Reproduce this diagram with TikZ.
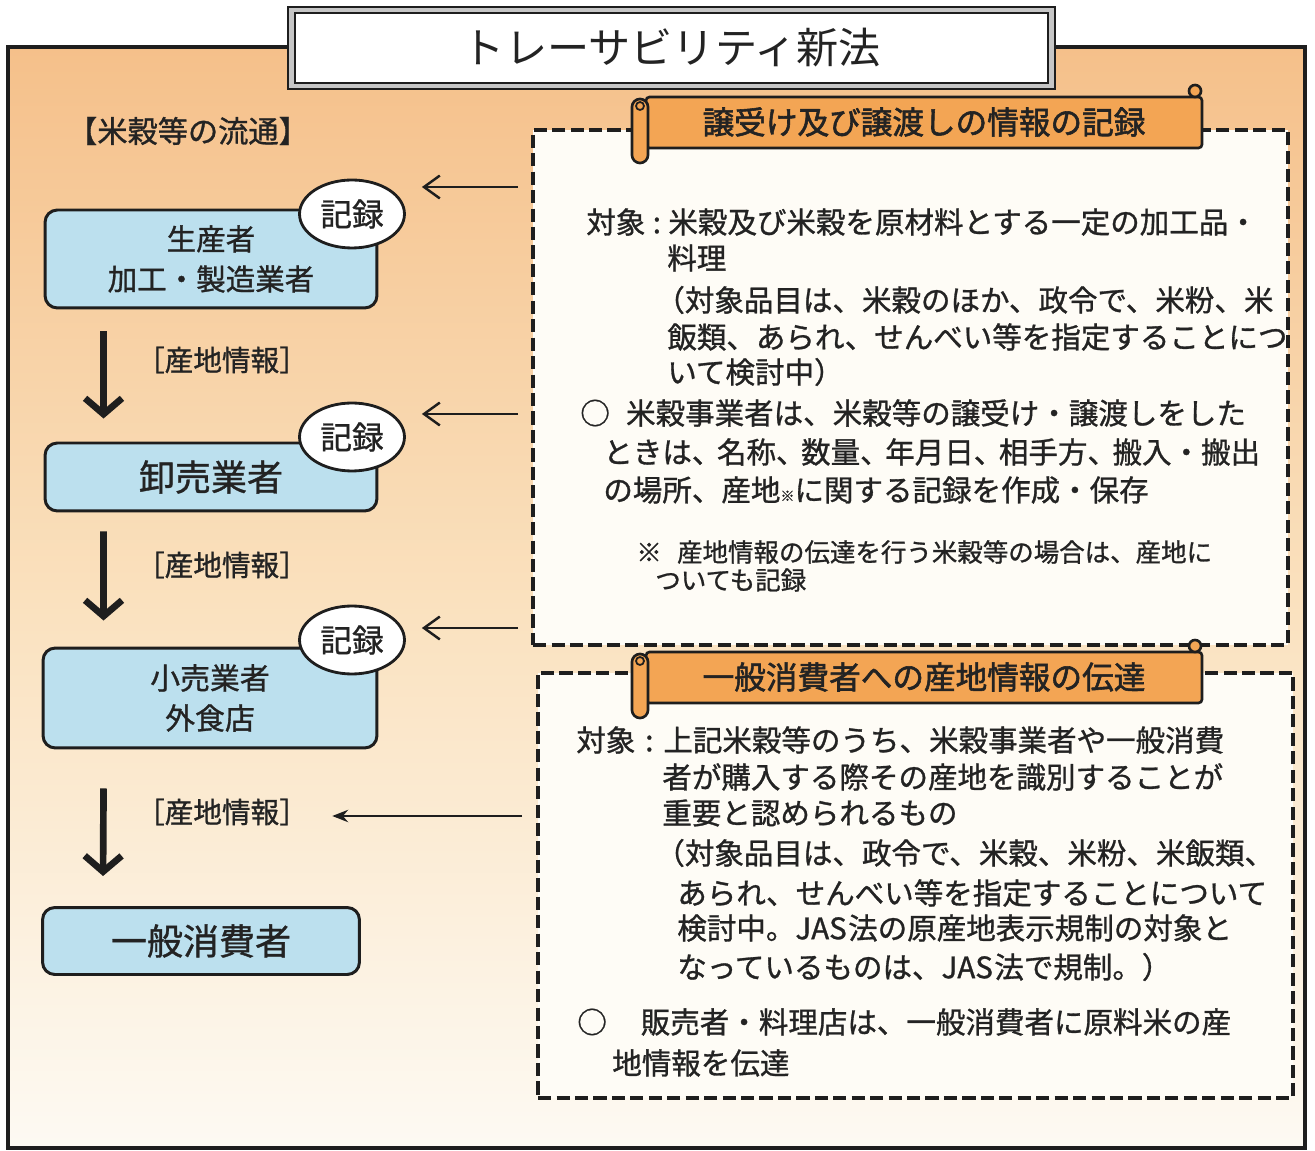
\documentclass[tikz,border=0pt]{standalone}
\usepackage{fontspec}
\setmainfont{Noto Sans CJK JP}
\newfontfamily\bodyfont{Noto Sans CJK JP}[FakeBold=1.0]
\newfontfamily\banfont{Noto Sans CJK JP}[FakeBold=1.8]
\usetikzlibrary{arrows.meta,shapes.geometric,calc}
\definecolor{bgtop}{RGB}{245,192,138}
\definecolor{bgmid}{RGB}{250,225,190}
\definecolor{bgbot}{RGB}{253,250,243}
\definecolor{boxblue}{RGB}{188,224,238}
\definecolor{bannor}{RGB}{243,165,84}
\definecolor{paper}{RGB}{254,252,246}
\definecolor{linec}{RGB}{30,30,30}
\definecolor{textc}{RGB}{35,35,35}
\newcommand\fs[1]{\fontsize{#1}{#1}\selectfont}
\newcommand\colonw[1]{\makebox[#1][c]{:}}
\newcommand\tk{、\kern-0.15em}
\begin{document}
\begin{tikzpicture}[x=0.02cm,y=-0.02cm,
  actor/.style={draw=linec, line width=1.7pt, fill=boxblue, rounded corners=7pt, inner sep=0pt, align=center, text=textc},
  rec/.style={ellipse, draw=linec, line width=1.6pt, fill=white, minimum width=2.1cm, minimum height=1.36cm, inner sep=0pt, text=textc, font=\bodyfont\fs{18}},
  dashbox/.style={draw=linec, line width=2.1pt, dash pattern=on 7.5pt off 3pt, fill=paper, inner sep=0pt},
  banner/.style={draw=linec, line width=1.5pt, fill=bannor},
  bantxt/.style={inner sep=0pt, text=textc, font=\banfont\fs{18}},
  txt/.style={anchor=west, inner sep=0pt, text=textc, font=\bodyfont\fs{16.8}},
  smalltxt/.style={anchor=west, inner sep=0pt, text=textc, font=\bodyfont\fs{14.5}},
  lbl/.style={inner sep=0pt, text=textc, font=\bodyfont\fs{16.3}},
  downarrow/.style={draw=linec, line width=3.8pt, -{Straight Barb[length=9pt,width=21pt]}},
  recarrow/.style={draw=linec, line width=1.4pt, -{Straight Barb[length=9pt,width=13pt]}},
  infoarrow/.style={draw=linec, line width=1.3pt, -{Stealth[length=9pt,width=7pt]}}
]
\useasboundingbox (0,0) rectangle (1315,1151);
\fill[white] (0,0) rectangle (1315,1151);
% background frame
\fill[top color=bgtop, bottom color=bgbot, middle color=bgmid] (8,47) rectangle (1305,1148);
\draw[linec, line width=1.8pt] (8,47) rectangle (1305,1148);
% title
\draw[linec, line width=1.2pt, fill=gray!45] (288,7) rectangle (1055,89);
\draw[linec, line width=1.2pt, fill=white] (295,13) rectangle (1048,83);
\node[inner sep=0pt, text=textc, font=\fs{24}] (title) at (672,48) {トレーサビリティ新法};

% left column
\node[inner sep=0pt, text=textc, font=\bodyfont\fs{17.2}] (flow) at (188,131) {【米穀等の流通】};
\node[actor, minimum width=6.64cm, minimum height=1.96cm, font=\bodyfont\fontsize{16.8}{22.8}\selectfont] (p1) at (211,259) {生産者\\加工・製造業者};
\node[actor, minimum width=6.64cm, minimum height=1.36cm, font=\bodyfont\fs{20.5}] (p2) at (211,477) {卸売業者};
\node[actor, minimum width=6.68cm, minimum height=2.0cm, font=\bodyfont\fontsize{17}{22.8}\selectfont] (p3) at (210,698) {小売業者\\外食店};
\node[actor, minimum width=6.34cm, minimum height=1.34cm, font=\bodyfont\fs{20.5}] (p4) at (201,941) {一般消費者};

\node[rec] (e1) at (352,214) {記録};
\node[rec] (e2) at (352,437) {記録};
\node[rec] (e3) at (352,640) {記録};

\draw[downarrow] ($(p1.south west)+(60,22)$) -- ($(p2.north west)+(60,-23)$);
\draw[downarrow] ($(p2.south west)+(60,19)$) -- ($(p3.north west)+(62,-26)$);
\draw[downarrow] ($(p3.south west)+(62,39)$) -- ($(p4.north west)+(62,-30)$);

\node[lbl] (l1) at (222,360) {［産地情報］};
\node[lbl] (l2) at (222,565) {［産地情報］};
\node[lbl] (l3) at (222,812) {［産地情報］};

% dashed boxes
\node[dashbox, minimum width=15.1cm, minimum height=10.3cm] (b1) at (910.5,387.5) {};
\node[dashbox, minimum width=15.1cm, minimum height=8.5cm] (b2) at (915.5,885.5) {};

% connectors from the boxes
\coordinate (s1) at (518,187);
\coordinate (s2) at (518,414);
\coordinate (s3) at (518,628);
\coordinate (s4) at (522,816);
\draw[recarrow] (s1) -- ($(e1.east)+(16,-27)$);
\draw[recarrow] (s2) -- ($(e2.east)+(16,-23)$);
\draw[recarrow] (s3) -- ($(e3.east)+(16,-12)$);
\draw[infoarrow] (s4) -- ($(l3.east)+(24,4)$);

% banners
\foreach \dy/\txt/\nm in {0/{譲受け及び譲渡しの情報の記録}/t1, 555/{一般消費者への産地情報の伝達}/t2}{
  \begin{scope}[shift={(0,\dy)}]
    \draw[banner, rounded corners=2pt] (646,97) rectangle (1202,148);
    \draw[banner] (1195,91) circle[radius=6];
    \draw[banner, rounded corners=4.5pt] (632,99) rectangle (648,163);
    \draw[linec, line width=1pt] (640,106) circle[radius=4];
    \node[bantxt] (\nm) at (924,122) {\txt};
  \end{scope}
}

% box 1 text
\node[txt] (a1) at (586,222) {対象\colonw{0.78em}米穀及び米穀を原材料とする一定の加工品・};
\node[txt] (a2) at (667,258) {料理};
\node[txt] (a3) at (655,300) {（対象品目は、米穀のほか、政令で、米粉、米};
\node[txt] (a4) at (667,337) {飯類、あられ、せんべい等を指定することにつ};
\node[txt] (a5) at (667,372) {いて検討中）};
\node[txt] (a6) at (580,413) {○\hspace{0.55em}米穀事業者は、米穀等の譲受け・譲渡しをした};
\node[txt] (a7) at (603,452) {ときは\tk 名称\tk 数量\tk 年月日\tk 相手方\tk 搬入・搬出};
\node[txt] (a8) at (603,490) {の場所、産地{\fs{8}※}に関する記録を作成・保存};
\node[smalltxt] (a9) at (636,552) {※\hspace{0.6em}産地情報の伝達を行う米穀等の場合は、産地に};
\node[smalltxt] (a10) at (655,580) {ついても記録};

% box 2 text
\node[txt] (c1) at (576,740) {対象\colonw{0.95em}上記米穀等のうち、米穀事業者や一般消費};
\node[txt] (c2) at (662,777) {者が購入する際その産地を識別することが};
\node[txt] (c3) at (662,813) {重要と認められるもの};
\node[txt] (c4) at (655,853) {（対象品目は、政令で、米穀、米粉、米飯類、};
\node[txt] (c5) at (677,893) {あられ、せんべい等を指定することについて};
\node[txt] (c6) at (677,928) {検討中。JAS\kern0.05em 法の原産地表示規制の対象と};
\node[txt] (c7) at (677,967) {なっているものは、JAS\kern0.05em 法で規制。）};
\node[txt] (c8) at (577,1022) {○\hspace{1.15em}販売者・料理店は、一般消費者に原料米の産};
\node[txt] (c9) at (612,1063) {地情報を伝達};
\end{tikzpicture}
\end{document}
